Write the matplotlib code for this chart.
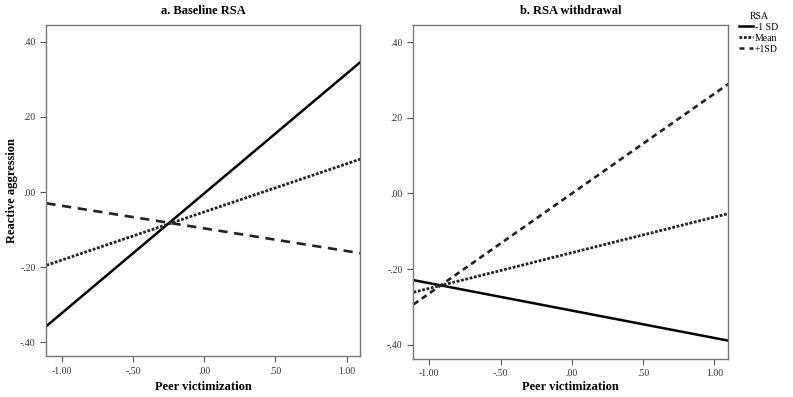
import matplotlib.pyplot as plt
from matplotlib.lines import Line2D

plt.rcParams['font.family'] = ['Liberation Serif', 'DejaVu Serif']

# x endpoints of the simple-slope lines (peer victimization)
x_ends = [-1.11, 1.10]

# panel a: baseline RSA
base_low = [-0.357, 0.347]    # -1 SD
base_mean = [-0.195, 0.088]   # Mean
base_high = [-0.030, -0.163]  # +1 SD

# panel b: RSA withdrawal
wd_low = [-0.229, -0.389]
wd_mean = [-0.261, -0.053]
wd_high = [-0.293, 0.290]

x_ticks = [-1.0, -0.5, 0.0, 0.5, 1.0]
x_labels = ['-1.00', '-.50', '.00', '.50', '1.00']
y_ticks = [0.4, 0.2, 0.0, -0.2, -0.4]
y_labels = ['.40', '.20', '.00', '-.20', '-.40']

fig = plt.figure(figsize=(7.93, 3.97), dpi=100)
ax1 = fig.add_axes([0.058, 0.103, 0.396, 0.834])
ax2 = fig.add_axes([0.521, 0.096, 0.397, 0.841])

panels = [
    (ax1, base_low, base_mean, base_high, 'a. Baseline RSA', (0, (3.5, 2.5))),
    (ax2, wd_low, wd_mean, wd_high, 'b. RSA withdrawal', (0, (2.2, 1.6))),
]

for ax, low, mean, high, title, dash in panels:
    ax.plot(x_ends, low, color='black', lw=1.8, linestyle='-')
    ax.plot(x_ends, mean, color='#222222', lw=2.0, linestyle=(0, (1, 0.6)))
    ax.plot(x_ends, high, color='#222222', lw=1.9, linestyle=dash)
    ax.set_xlim(-1.113, 1.095)
    ax.set_ylim(-0.437, 0.445)
    ax.set_xticks(x_ticks)
    ax.set_xticklabels(x_labels)
    ax.set_yticks(y_ticks)
    ax.set_yticklabels(y_labels)
    ax.tick_params(labelsize=7, length=4, width=0.8, colors='#555555',
                   labelcolor='#333333')
    for s in ax.spines.values():
        s.set_color('#777777')
        s.set_linewidth(1.0)
    ax.set_title(title, fontsize=9, fontweight='bold', pad=8)
    ax.set_xlabel('Peer victimization', fontsize=9, fontweight='bold')

ax1.xaxis.set_label_coords(0.5, -0.075)
ax2.xaxis.set_label_coords(0.5, -0.065)
ax1.set_ylabel('Reactive aggression', fontsize=9, fontweight='bold')
ax1.yaxis.set_label_coords(-0.09, 0.5)

handles = [
    Line2D([], [], color='black', lw=1.8, linestyle='-'),
    Line2D([], [], color='#222222', lw=2.0, linestyle=(0, (1, 0.6))),
    Line2D([], [], color='#222222', lw=1.8, linestyle=(0, (2, 2))),
]
fig.legend(handles, ['-1 SD', 'Mean', '+1SD'], title='RSA',
           loc='upper left', bbox_to_anchor=(0.925, 0.985), frameon=False,
           fontsize=7, title_fontsize=7, handlelength=1.4, handletextpad=0.2,
           labelspacing=0.2, borderpad=0.1)

fig.savefig('out.png', dpi=100)
